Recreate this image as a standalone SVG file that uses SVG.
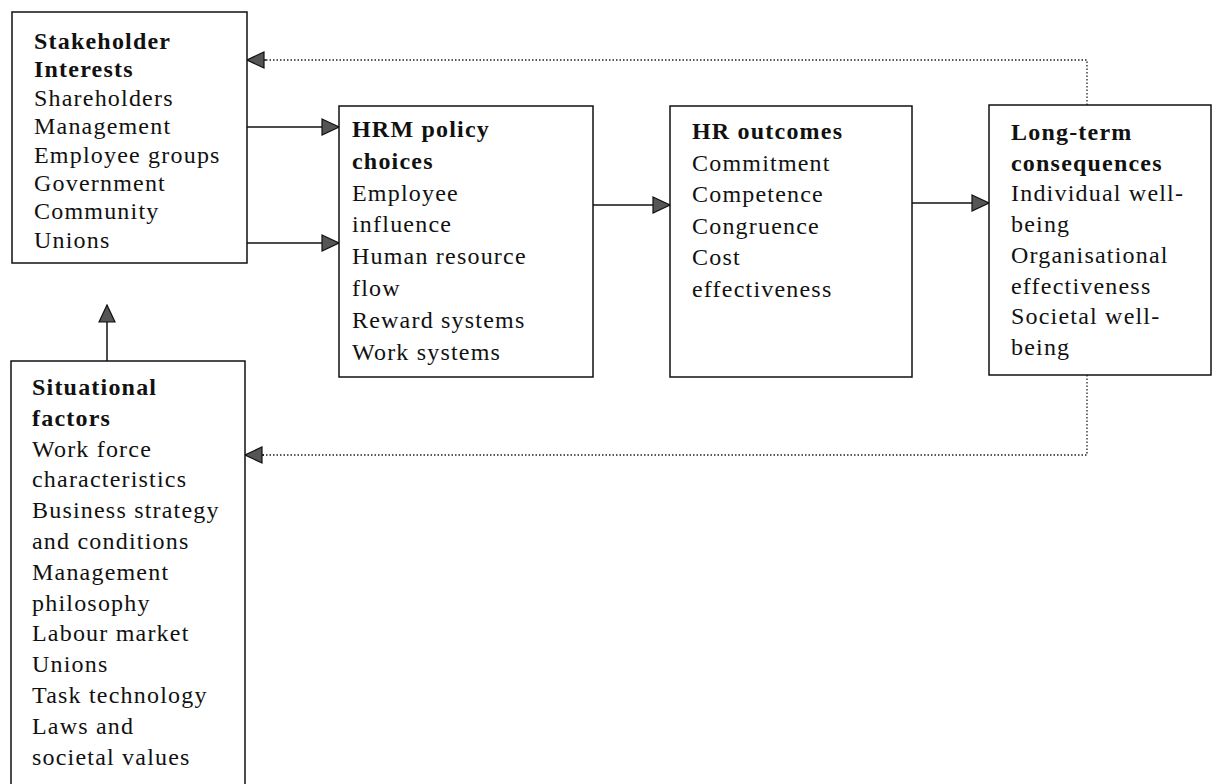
<svg xmlns="http://www.w3.org/2000/svg" width="1215" height="784" viewBox="0 0 1215 784">
<style>
.box{fill:#fff;stroke:#111;stroke-width:1.5}
.t{font-family:"Liberation Serif","Times New Roman",serif;font-size:24px;fill:#111;letter-spacing:1.2px}
.b{font-weight:bold}
.ln{stroke:#111;stroke-width:1.5;fill:none}
.dot{stroke:#222;stroke-width:1.3;fill:none;stroke-dasharray:1.5 2}
</style>
<defs>
<marker id="ah" markerUnits="userSpaceOnUse" markerWidth="19" markerHeight="18" viewBox="0 0 19 18" refX="18" refY="9" orient="auto">
<path d="M1,1 L18,9 L1,17 z" fill="#555" stroke="#111" stroke-width="1.2"/>
</marker>
</defs>
<rect width="1215" height="784" fill="#fff"/>
<g id="connectors">
<line class="ln" x1="247" y1="127" x2="339" y2="127" marker-end="url(#ah)"/>
<line class="ln" x1="247" y1="243" x2="339" y2="243" marker-end="url(#ah)"/>
<line class="ln" x1="593" y1="205" x2="670" y2="205" marker-end="url(#ah)"/>
<line class="ln" x1="912" y1="203" x2="989" y2="203" marker-end="url(#ah)"/>
<line class="ln" x1="107" y1="361" x2="107" y2="305" marker-end="url(#ah)"/>
<polyline class="dot" points="1087,105 1087,60 265,60"/>
<line class="ln" x1="266" y1="60" x2="247" y2="60" stroke-width="0" marker-end="url(#ah)"/>
<polyline class="dot" points="1087,375 1087,455 263,455"/>
<line class="ln" x1="264" y1="455" x2="245" y2="455" stroke-width="0" marker-end="url(#ah)"/>
</g>
<g id="stakeholder">
<rect class="box" x="12" y="12" width="235" height="251"/>
<text class="t" x="34"><tspan class="b" y="49">Stakeholder</tspan><tspan class="b" x="34" y="77.4">Interests</tspan><tspan x="34" y="105.8">Shareholders</tspan><tspan x="34" y="134.2">Management</tspan><tspan x="34" y="162.6">Employee groups</tspan><tspan x="34" y="191">Government</tspan><tspan x="34" y="219.4">Community</tspan><tspan x="34" y="247.8">Unions</tspan></text>
</g>
<g id="situational">
<rect class="box" x="11" y="361" width="234" height="440"/>
<text class="t" x="32"><tspan class="b" y="395">Situational</tspan><tspan class="b" x="32" y="425.8">factors</tspan><tspan x="32" y="456.6">Work force</tspan><tspan x="32" y="487.4">characteristics</tspan><tspan x="32" y="518.2">Business strategy</tspan><tspan x="32" y="549">and conditions</tspan><tspan x="32" y="579.8">Management</tspan><tspan x="32" y="610.6">philosophy</tspan><tspan x="32" y="641.4">Labour market</tspan><tspan x="32" y="672.2">Unions</tspan><tspan x="32" y="703">Task technology</tspan><tspan x="32" y="733.8">Laws and</tspan><tspan x="32" y="764.6">societal values</tspan></text>
</g>
<g id="hrm">
<rect class="box" x="339" y="106" width="254" height="271"/>
<text class="t" x="352"><tspan class="b" y="137">HRM policy</tspan><tspan class="b" x="352" y="168.8">choices</tspan><tspan x="352" y="200.6">Employee</tspan><tspan x="352" y="232.4">influence</tspan><tspan x="352" y="264.2">Human resource</tspan><tspan x="352" y="296">flow</tspan><tspan x="352" y="327.8">Reward systems</tspan><tspan x="352" y="359.6">Work systems</tspan></text>
</g>
<g id="outcomes">
<rect class="box" x="670" y="106" width="242" height="271"/>
<text class="t" x="692"><tspan class="b" y="139">HR outcomes</tspan><tspan x="692" y="170.6">Commitment</tspan><tspan x="692" y="202.2">Competence</tspan><tspan x="692" y="233.8">Congruence</tspan><tspan x="692" y="265.4">Cost</tspan><tspan x="692" y="297">effectiveness</tspan></text>
</g>
<g id="consequences">
<rect class="box" x="989" y="105" width="222" height="270"/>
<text class="t" x="1011"><tspan class="b" y="140">Long-term</tspan><tspan class="b" x="1011" y="170.7">consequences</tspan><tspan x="1011" y="201.4">Individual well-</tspan><tspan x="1011" y="232.1">being</tspan><tspan x="1011" y="262.8">Organisational</tspan><tspan x="1011" y="293.5">effectiveness</tspan><tspan x="1011" y="324.2">Societal well-</tspan><tspan x="1011" y="354.9">being</tspan></text>
</g>
</svg>
